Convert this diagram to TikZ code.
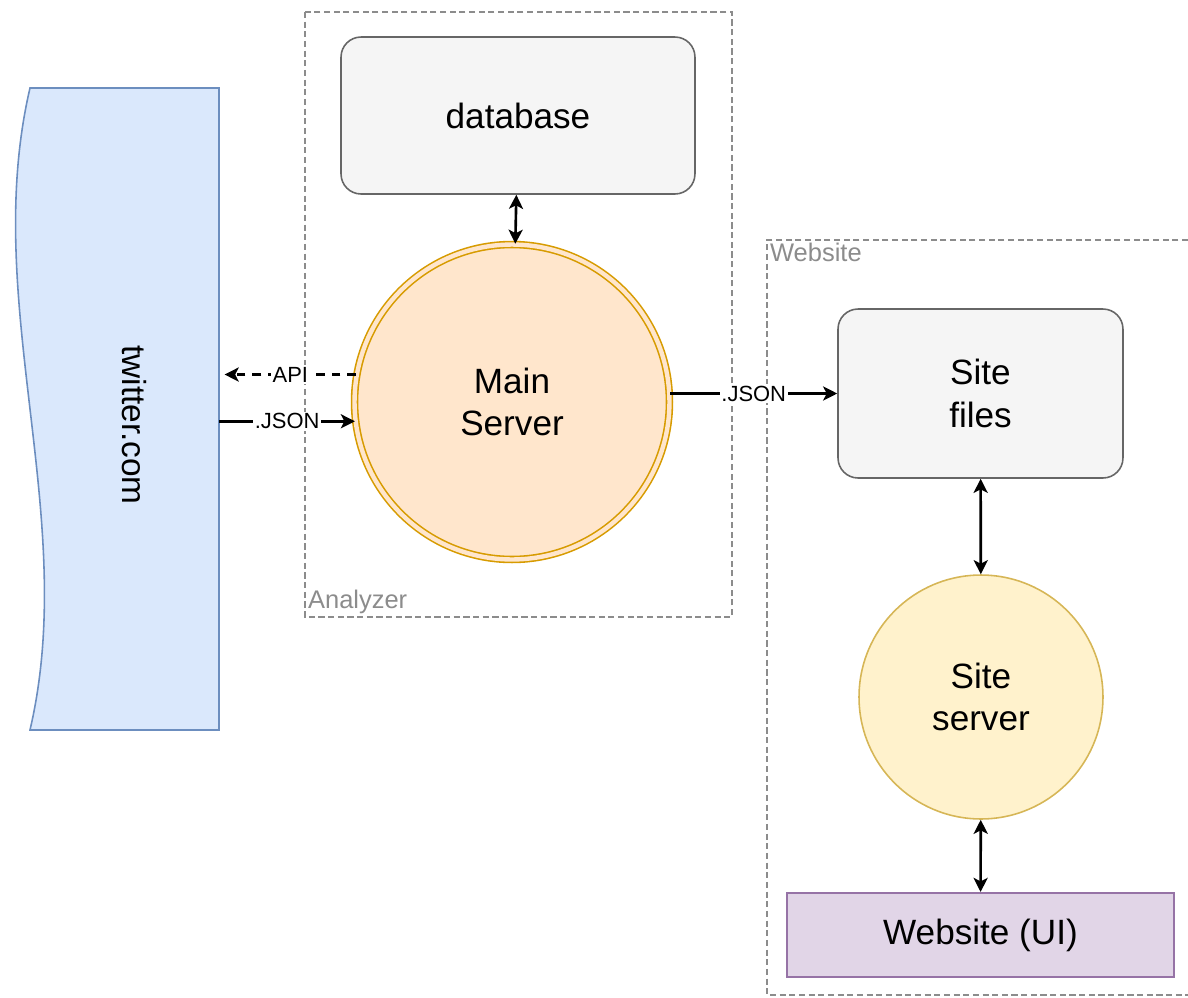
\documentclass[tikz,border=0pt]{standalone}
\usepackage{fontspec}
\setmainfont{Liberation Sans}
\usetikzlibrary{arrows.meta,positioning}

\definecolor{twfill}{HTML}{DAE8FC}
\definecolor{twline}{HTML}{6C8EBF}
\definecolor{boxfill}{HTML}{F5F5F5}
\definecolor{boxline}{HTML}{666666}
\definecolor{srvfill}{HTML}{FFE6CC}
\definecolor{srvline}{HTML}{D79B00}
\definecolor{sitefill}{HTML}{FFF2CC}
\definecolor{siteline}{HTML}{D6B656}
\definecolor{uifill}{HTML}{E1D5E7}
\definecolor{uiline}{HTML}{9673A6}
\definecolor{grouptext}{HTML}{8C8C8C}

\tikzset{
  bigtext/.style={font=\fontsize{20}{24}\selectfont, align=center},
  graybox/.style={draw=boxline, fill=boxfill, line width=0.9pt, rounded corners=0.4cm, bigtext},
  groupbox/.style={draw=grouptext, dashed, dash pattern=on 3.5pt off 2pt, line width=0.9pt},
  grouplabel/.style={text=grouptext, font=\fontsize{14.5}{17}\selectfont, inner sep=1pt},
  link/.style={line width=1.5pt, -{Stealth[length=8pt,width=8pt,inset=2pt]}},
  twolink/.style={line width=1.5pt, {Stealth[length=8pt,width=8pt,inset=2pt]}-{Stealth[length=8pt,width=8pt,inset=2pt]}},
  linklabel/.style={fill=white, inner sep=1pt, font=\fontsize{12.5}{14}\selectfont}
}

\begin{document}
\begin{tikzpicture}[x=0.02cm, y=-0.02cm]
    % Fix the page to the reference size
    \useasboundingbox (0,0) rectangle (1188,998);

    % Group frames
    \draw[groupbox] (305,12) rectangle (732,617);
    \node[grouplabel, anchor=south west] (analyzerlbl) at (306,616) {Analyzer};
    \draw[groupbox] (1188,240) -- (767,240) -- (767,995) -- (1188,995);
    \node[grouplabel, anchor=north west] (websitelbl) at (768,241) {Website};

    % twitter.com (wavy band)
    \draw[draw=twline, fill=twfill, line width=0.9pt]
        (219,88) -- (30,88) .. controls (-20,302) and (80,516) .. (30,730) -- (219,730) -- cycle;
    \node[minimum width=3.82cm, minimum height=12.84cm] (twitter) at (123.5,409) {};
    \node[bigtext, font=\fontsize{19}{22}\selectfont, rotate=-90] (twitterlbl) at (134,425) {twitter.com};

    % Analyzer nodes
    \node[graybox, minimum width=7.08cm, minimum height=3.14cm] (db) at (518,115.5) {database};
    \node[circle, draw=srvline, line width=0.9pt, double=srvfill, double distance=2.5pt, fill=srvfill,
          minimum size=6.3cm, bigtext] (mainsrv) at (512,402) {Main\\Server};

    % Website nodes
    \node[graybox, minimum width=5.7cm, minimum height=3.38cm] (sitefiles) at (980.5,393.5) {Site\\files};
    \node[circle, draw=siteline, fill=sitefill, line width=0.9pt,
          minimum size=4.88cm, bigtext] (sitesrv) at (981,697) {Site\\server};
    \node[draw=uiline, fill=uifill, line width=1.2pt, minimum width=7.74cm, minimum height=1.68cm,
          bigtext] (webui) at (980.5,935) {Website (UI)};

    % Connections
    \draw[twolink] (db) -- (mainsrv);
    \draw[link, dashed, dash pattern=on 5pt off 4pt] (mainsrv.170) -- ([xshift=3pt]mainsrv.170 -| twitter.east)
        node[linklabel, midway] {API};
    \draw[link] (mainsrv.187 -| twitter.east) -- (mainsrv.187)
        node[linklabel, midway] {.JSON};
    \draw[link] (sitefiles.west -| mainsrv.east) -- (sitefiles.west)
        node[linklabel, midway] {.JSON};
    \draw[twolink] (sitefiles) -- (sitesrv);
    \draw[twolink] (sitesrv) -- (webui);
\end{tikzpicture}
\end{document}
